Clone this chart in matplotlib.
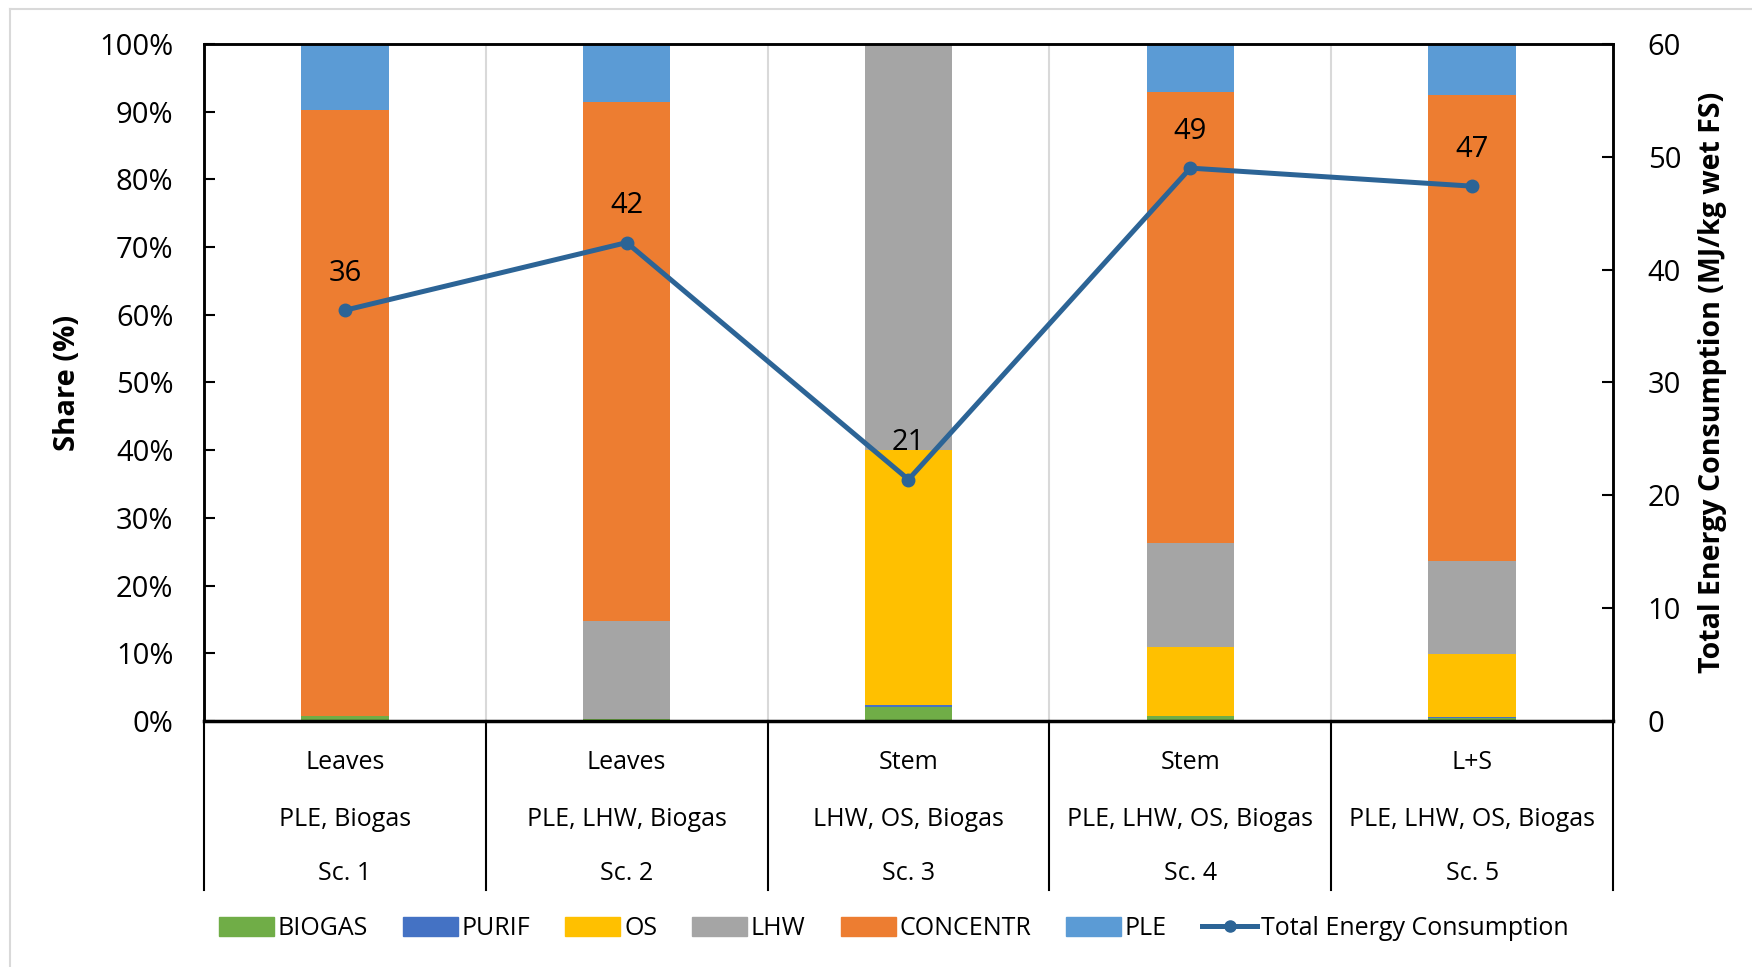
import numpy as np
import matplotlib.pyplot as plt
from matplotlib.patches import Patch
from matplotlib.lines import Line2D

plt.rcParams['font.family'] = ['Open Sans', 'DejaVu Sans']

# scenarios
scenarios = ['Sc. 1', 'Sc. 2', 'Sc. 3', 'Sc. 4', 'Sc. 5']
feedstock = ['Leaves', 'Leaves', 'Stem', 'Stem', 'L+S']
routes = ['PLE, Biogas', 'PLE, LHW, Biogas', 'LHW, OS, Biogas',
          'PLE, LHW, OS, Biogas', 'PLE, LHW, OS, Biogas']

# share of each process step (%)
biogas = [0.7, 0.3, 2.1, 0.7, 0.5]
purif = [0.0, 0.0, 0.3, 0.1, 0.1]
os_share = [0.0, 0.0, 37.7, 10.1, 9.3]
lhw = [0.0, 14.4, 59.9, 15.4, 13.7]
concentr = [89.5, 76.7, 0.0, 66.6, 68.8]
ple = [9.8, 8.6, 0.0, 7.1, 7.6]

# total energy consumption (MJ/kg wet FS)
total_energy = [36.4, 42.4, 21.4, 49.0, 47.4]

series = [('BIOGAS', biogas, '#70AD47'),
          ('PURIF', purif, '#4472C4'),
          ('OS', os_share, '#FFC000'),
          ('LHW', lhw, '#A5A5A5'),
          ('CONCENTR', concentr, '#ED7D31'),
          ('PLE', ple, '#5B9BD5')]

fig = plt.figure(figsize=(17.52, 9.67), dpi=100)
ax = fig.add_axes([0.1164, 0.2544, 0.8043, 0.7001])
x = np.arange(len(scenarios))

bottom = np.zeros(len(scenarios))
for name, vals, col in series:
    ax.bar(x, vals, width=0.31, bottom=bottom, color=col, zorder=2)
    bottom += np.array(vals)

ax.set_xlim(-0.5, len(scenarios) - 0.5)
ax.set_ylim(0, 100)
ax.set_yticks(np.arange(0, 101, 10))
ax.set_yticklabels([f'{v}%' for v in range(0, 101, 10)])
ax.set_xticks([])
ax.tick_params(axis='y', direction='in', length=8, width=1.5, labelsize=21, pad=22)
ax.set_ylabel('Share (%)', fontsize=21, fontweight='bold', labelpad=12)
for s in ax.spines.values():
    s.set_linewidth(1.8)
ax.spines['bottom'].set_linewidth(2.5)

# vertical separators inside plot
for b in x[:-1] + 0.5:
    ax.axvline(b, color='#D9D9D9', lw=1.5, zorder=1)

# category table below the axis
trans = ax.get_xaxis_transform()
for b in np.arange(-0.5, len(scenarios), 1.0):
    ax.plot([b, b], [0, -0.2496], transform=trans, color='black', lw=1.5,
            clip_on=False)
for i in x:
    ax.text(i, -0.062, feedstock[i], transform=trans, ha='center', va='center',
            fontsize=18)
    ax.text(i, -0.145, routes[i], transform=trans, ha='center', va='center',
            fontsize=18)
    ax.text(i, -0.226, scenarios[i], transform=trans, ha='center', va='center',
            fontsize=18)

# secondary axis: total energy consumption
ax2 = ax.twinx()
ax2.plot(x, total_energy, color='#2C6496', lw=3.6, marker='o', markersize=9,
         zorder=3)
for i, v in zip(x, total_energy):
    ax2.annotate(f'{v:.0f}', (i, v), xytext=(0, 16), textcoords='offset points',
                 ha='center', va='bottom', fontsize=21)
ax2.set_ylim(0, 60)
ax2.set_yticks(np.arange(0, 61, 10))
ax2.tick_params(axis='y', direction='in', length=8, width=1.5, labelsize=21, pad=25)
ax2.set_ylabel('Total Energy Consumption (MJ/kg wet FS)', fontsize=20.5,
               fontweight='bold', labelpad=12)
for s in ax2.spines.values():
    s.set_linewidth(1.8)

handles = [Patch(color=col, label=name) for name, _, col in series]
handles.append(Line2D([0], [0], color='#2C6496', lw=3.6, marker='o', markersize=8,
                      label='Total Energy Consumption'))
fig.legend(handles=handles, loc='center', bbox_to_anchor=(0.51, 0.040), ncol=7,
           frameon=False, fontsize=18, handlelength=2.2, handleheight=0.8,
           handletextpad=0.15, columnspacing=1.4)

# light outer frame
fig.add_artist(Line2D([10 / 1752, 1], [1 - 9 / 967, 1 - 9 / 967],
                      transform=fig.transFigure, color='#D9D9D9', lw=1.5))
fig.add_artist(Line2D([10 / 1752, 10 / 1752], [0, 1 - 9 / 967],
                      transform=fig.transFigure, color='#D9D9D9', lw=1.5))

fig.savefig('out.png', dpi=100)
